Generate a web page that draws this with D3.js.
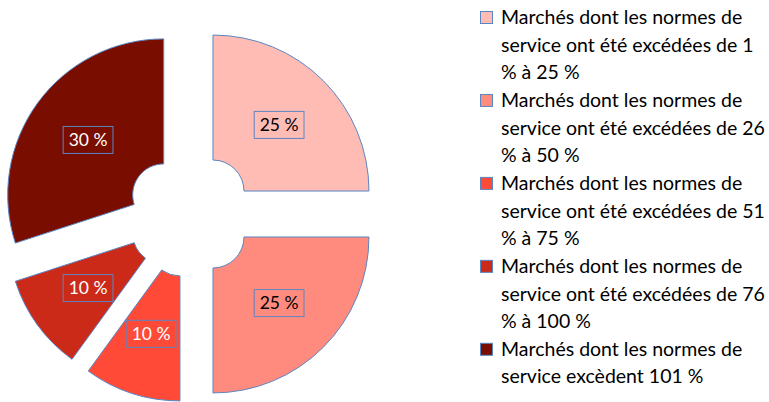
<!DOCTYPE html>
<html>
<head>
<meta charset="utf-8">
<script src="https://cdn.jsdelivr.net/npm/d3@7"></script>
<style>
	body { margin: 0; background: #fff; }
	svg { display: block; font-family: Lato, "Open Sans", sans-serif; }
	.slice { stroke: #5b86c4; stroke-width: 1px; }
	.lbox { fill: none; stroke: #5b86c4; stroke-width: 1px; }
</style>
</head>
<body>
<script>

var width = 769,
	height = 402;

var categories = [
	"Marchés dont les normes de\nservice ont été excédées de 1\n% à 25 %",
	"Marchés dont les normes de\nservice ont été excédées de 26\n% à 50 %",
	"Marchés dont les normes de\nservice ont été excédées de 51\n% à 75 %",
	"Marchés dont les normes de\nservice ont été excédées de 76\n% à 100 %",
	"Marchés dont les normes de\nservice excèdent 101 %"
];
var values = [25, 25, 10, 10, 30];
var colors = ["#ffbcb5", "#ff8b7e", "#ff4a37", "#cc2a19", "#780d00"];
var labelColors = ["#000", "#000", "#fff", "#fff", "#fff"];

var cx = 190, cy = 214,
	outer = 156, inner = 31,
	explode = 32.5;

var svg = d3.select("body").append("svg")
	.attr("width", width)
	.attr("height", height);

var pie = d3.pie().sort(null).value(function(d) { return d; });
var arc = d3.arc().innerRadius(inner).outerRadius(outer);
var arcs = pie(values);

// each slice pushed out along its bisector
function offset(d) {
	var a = (d.startAngle + d.endAngle) / 2;
	return [cx + explode * Math.sin(a), cy - explode * Math.cos(a)];
}

var g = svg.append("g").selectAll("g")
	.data(arcs)
  .enter().append("g")
	.attr("transform", function(d) { var o = offset(d); return "translate(" + o[0] + "," + o[1] + ")"; });

g.append("path")
	.attr("class", "slice")
	.attr("d", arc)
	.attr("fill", function(d, i) { return colors[i]; });

g.each(function(d, i) {
	var c = arc.centroid(d);
	var lg = d3.select(this).append("g").attr("transform", "translate(" + c[0] + "," + c[1] + ")");
	var t = lg.append("text")
		.attr("text-anchor", "middle")
		.attr("dy", "0.36em")
		.attr("font-size", 17.5)
		.attr("fill", labelColors[i])
		.text(d.value + " %");
	var w = t.node().getComputedTextLength() + 11;
	lg.insert("rect", "text")
		.attr("class", "lbox")
		.attr("x", -w / 2)
		.attr("y", -13.5)
		.attr("width", w)
		.attr("height", 27);
});

// legend
var lineH = 27.65;
var legend = svg.append("g").attr("transform", "translate(480,0)");
var row = 0;
categories.forEach(function(c, i) {
	var lines = c.split("\n");
	var y0 = 11 + row * lineH;
	legend.append("rect")
		.attr("x", 0.5)
		.attr("y", y0 + 0.5)
		.attr("width", 12)
		.attr("height", 12)
		.attr("fill", colors[i])
		.attr("stroke", "#5b86c4")
		.attr("stroke-width", 1);
	var t = legend.append("text")
		.attr("x", 21)
		.attr("y", y0 + 13)
		.attr("font-size", 19.5)
		.attr("fill", "#000");
	lines.forEach(function(l, j) {
		t.append("tspan").attr("x", 21).attr("dy", j ? lineH : 0).text(l);
	});
	row += lines.length;
});
</script>
</body>
</html>
